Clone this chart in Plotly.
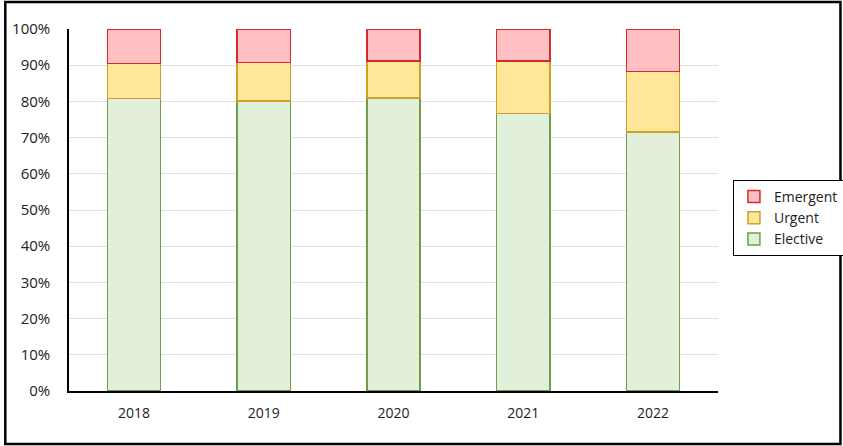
import plotly.graph_objects as go

years = ["2018", "2019", "2020", "2021", "2022"]
elective = [80.8, 80.1, 80.9, 76.7, 71.6]
urgent = [9.7, 10.6, 10.2, 14.4, 16.7]
emergent = [9.5, 9.3, 8.9, 8.9, 11.7]
y_ticks = [0, 10, 20, 30, 40, 50, 60, 70, 80, 90, 100]
y_tick_labels = [f"{t}%" for t in y_ticks]

W, H = 860, 446
L, T, B = 66, 29, 55
PLOT_RIGHT = 718
R = W - PLOT_RIGHT
pw, ph = W - L - R, H - T - B

fig = go.Figure()
series = [
    ("Elective", elective, "#e2efda", "#6e9e4a"),
    ("Urgent", urgent, "#ffe699", "#c9a22a"),
    ("Emergent", emergent, "#ffc0c4", "#d42a2e"),
]
for name, vals, fill, line in series:
    fig.add_trace(go.Bar(x=years, y=vals, name=name, legendgroup=name,
                         marker=dict(color=fill, line=dict(color=line, width=1.5))))

def px_x(p):
    return (p - L) / pw

def px_y(p):
    return (H - B - p) / ph

fig.update_layout(
    width=W, height=H, autosize=False,
    margin=dict(l=L, r=R, t=T, b=B),
    barmode="stack", bargap=0.59,
    paper_bgcolor="white", plot_bgcolor="white",
    font=dict(family="Open Sans, Liberation Sans, sans-serif", size=14, color="#222"),
    showlegend=True,
    legend=dict(x=px_x(733), y=px_y(180), xanchor="left", yanchor="top",
                bordercolor="black", borderwidth=1, traceorder="reversed",
                font=dict(size=14), itemwidth=30, tracegroupgap=10),
    xaxis=dict(showline=True, linecolor="black", linewidth=1.5,
               ticks="outside", ticklen=8, tickcolor="rgba(0,0,0,0)",
               tickfont=dict(size=14)),
    yaxis=dict(range=[0, 100], tickvals=y_ticks, ticktext=y_tick_labels,
               showline=True, linecolor="black", linewidth=1.5,
               showgrid=True, gridcolor="#e0e0e0", gridwidth=1, zeroline=False,
               ticks="outside", ticklen=14, tickcolor="rgba(0,0,0,0)",
               tickfont=dict(size=15)),
    shapes=[dict(type="rect", xref="paper", yref="paper",
                 x0=px_x(2), x1=px_x(841), y0=px_y(444), y1=px_y(2),
                 line=dict(color="black", width=2.5), layer="above")],
)

fig.write_html(
    "out.html",
    config={"displayModeBar": False},
    post_script="document.body.style.margin='0';document.documentElement.style.overflow='hidden';",
)
